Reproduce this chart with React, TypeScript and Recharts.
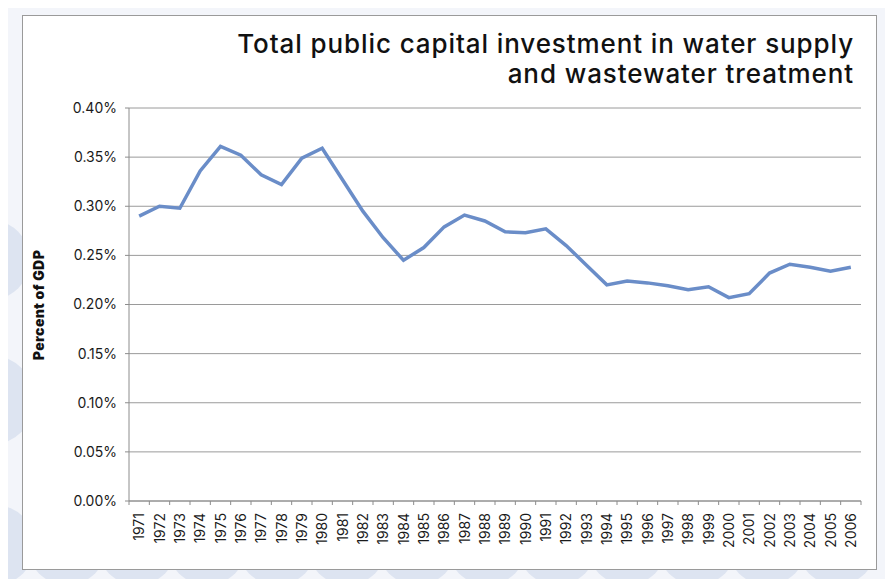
import React from "react";
import { LineChart, Line, XAxis, YAxis, CartesianGrid } from "recharts";

const YEARS = [
  "1971", "1972", "1973", "1974", "1975", "1976", "1977", "1978", "1979", "1980",
  "1981", "1982", "1983", "1984", "1985", "1986", "1987", "1988", "1989", "1990",
  "1991", "1992", "1993", "1994", "1995", "1996", "1997", "1998", "1999", "2000",
  "2001", "2002", "2003", "2004", "2005", "2006",
];

// percent of GDP
const INVESTMENT = [
  0.290, 0.300, 0.298, 0.336, 0.361, 0.352, 0.332, 0.322, 0.349, 0.359,
  0.327, 0.295, 0.268, 0.245, 0.258, 0.279, 0.291, 0.285, 0.274, 0.273,
  0.277, 0.260, 0.240, 0.220, 0.224, 0.222, 0.219, 0.215, 0.218, 0.207,
  0.211, 0.232, 0.241, 0.238, 0.234, 0.238,
];

const Y_TICKS = [0, 0.05, 0.1, 0.15, 0.2, 0.25, 0.3, 0.35, 0.4];

const TITLE = ["Total public capital investment in water supply", "and wastewater treatment"];

const FONT = "Inter, Lato, sans-serif";
const W = 893;
const H = 587;
const PLOT_LEFT = 129;
const PLOT_RIGHT = 861;
const BAND = (PLOT_RIGHT - PLOT_LEFT) / YEARS.length;

const data = YEARS.map((year, i) => ({ year, value: INVESTMENT[i] }));

// year label plus Excel-style tick marks sitting on the category boundaries
const YearTick = (props: any) => {
  const { x, y, payload, index } = props;
  const axisY = y - 12;
  return (
    <g>
      <line x1={x - BAND / 2} x2={x - BAND / 2} y1={axisY} y2={axisY + 4} stroke="#8c8c8c" />
      {index === YEARS.length - 1 && (
        <line x1={x + BAND / 2} x2={x + BAND / 2} y1={axisY} y2={axisY + 4} stroke="#8c8c8c" />
      )}
      <text
        x={x}
        y={y}
        dy="0.36em"
        textAnchor="end"
        transform={`rotate(-90, ${x}, ${y})`}
        fontFamily={FONT}
        fontSize={14}
        fill="#1a1a1a"
      >
        {payload.value}
      </text>
    </g>
  );
};

const circles = [
  { cx: 137, cy: 545, r: 40 },
  { cx: 207, cy: 545, r: 40 },
  { cx: 277, cy: 545, r: 40 },
  { cx: 347, cy: 545, r: 40 },
  { cx: 417, cy: 545, r: 40 },
  { cx: 487, cy: 545, r: 40 },
  { cx: 557, cy: 545, r: 40 },
  { cx: 627, cy: 545, r: 40 },
  { cx: 697, cy: 545, r: 40 },
  { cx: 767, cy: 545, r: 40 },
  { cx: 837, cy: 545, r: 40 },
  { cx: 67, cy: 545, r: 40 },
  { cx: -5, cy: 545, r: 40 },
  { cx: -10, cy: 400, r: 45 },
  { cx: -10, cy: 260, r: 40 },
];

export default function App() {
  return (
    <div style={{ position: "relative", width: W, height: H, margin: -8, overflow: "hidden", background: "#f3f5fa" }}>
      {circles.map((c, i) => (
        <div
          key={i}
          style={{
            position: "absolute",
            left: c.cx - c.r,
            top: c.cy - c.r,
            width: c.r * 2,
            height: c.r * 2,
            borderRadius: "50%",
            background: "#dde4f1",
          }}
        />
      ))}
      <div
        style={{
          position: "absolute",
          left: 22,
          top: 15,
          width: 855,
          height: 555,
          background: "#ffffff",
          border: "1px solid #9a9a9a",
          boxSizing: "border-box",
        }}
      />
      <div
        style={{
          position: "absolute",
          right: 39,
          top: 29,
          textAlign: "right",
          fontFamily: FONT,
          fontSize: 26,
          fontWeight: 500,
          letterSpacing: 0.9,
          lineHeight: "30px",
          color: "#111",
          whiteSpace: "nowrap",
        }}
      >
        {TITLE.map((t) => (
          <div key={t}>{t}</div>
        ))}
      </div>
      <div
        style={{
          position: "absolute",
          left: 38,
          top: 305,
          transform: "translate(-50%, -50%) rotate(-90deg)",
          fontFamily: FONT,
          fontSize: 14,
          fontWeight: 900,
          letterSpacing: 0.4,
          color: "#111",
          whiteSpace: "nowrap",
        }}
      >
        Percent of GDP
      </div>
      <div style={{ position: "absolute", left: 0, top: 0 }}>
        <LineChart width={W} height={H} data={data} margin={{ top: 108, right: W - PLOT_RIGHT, bottom: 0, left: 0 }}>
          <CartesianGrid vertical={false} stroke="#9a9a9a" strokeWidth={1} />
          <XAxis
            dataKey="year"
            scale="band"
            interval={0}
            height={86}
            axisLine={{ stroke: "#8c8c8c" }}
            tickLine={false}
            tickSize={4}
            tickMargin={8}
            tick={<YearTick />}
          />
          <YAxis
            width={PLOT_LEFT}
            domain={[0, 0.4]}
            ticks={Y_TICKS}
            interval={0}
            axisLine={{ stroke: "#8c8c8c" }}
            tickLine={{ stroke: "#8c8c8c" }}
            tickSize={4}
            tickMargin={8}
            tickFormatter={(v: number) => `${v.toFixed(2)}%`}
            tick={{ fontFamily: FONT, fontSize: 14, fill: "#1a1a1a" }}
          />
          <Line
            type="linear"
            dataKey="value"
            stroke="#6a8dc8"
            strokeWidth={3.5}
            dot={false}
            isAnimationActive={false}
          />
        </LineChart>
      </div>
    </div>
  );
}
